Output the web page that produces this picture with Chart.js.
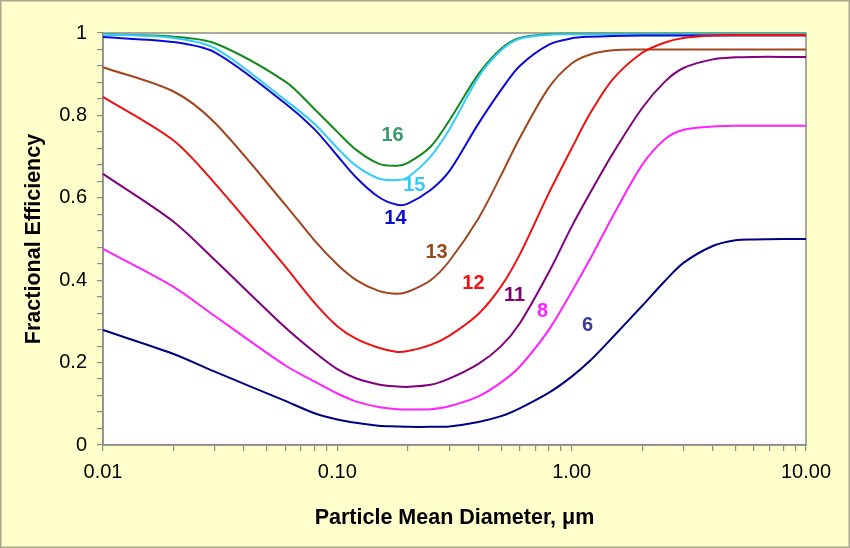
<!DOCTYPE html>
<html>
<head>
<meta charset="utf-8">
<script src="https://cdn.jsdelivr.net/npm/chart.js@4"></script>
<style>
html,body{margin:0;padding:0;background:#FFFFCC;}
canvas{display:block;}
</style>
</head>
<body>
<canvas id="c" width="850" height="548"></canvas>
<script>
const diameters = [0.01,0.02,0.03,0.06,0.08,0.1,0.12,0.15,0.18,0.2,0.25,0.3,0.4,0.5,0.6,0.8,1.0,1.2,1.5,2,2.5,3,4,5,6,8,10];

const eff16 = [0.997,0.991,0.975,0.882,0.815,0.760,0.717,0.683,0.678,0.685,0.724,0.787,0.900,0.962,0.988,0.997,0.998,0.998,0.998,0.998,0.998,0.998,0.998,0.998,0.998,0.998,0.998];
const eff15 = [0.997,0.988,0.963,0.837,0.779,0.721,0.678,0.647,0.643,0.650,0.700,0.765,0.893,0.958,0.986,0.996,0.997,0.997,0.997,0.997,0.997,0.997,0.997,0.997,0.997,0.997,0.997];
const eff14 = [0.990,0.978,0.953,0.829,0.766,0.702,0.650,0.602,0.583,0.586,0.619,0.664,0.780,0.862,0.920,0.972,0.987,0.991,0.993,0.994,0.994,0.994,0.994,0.994,0.994,0.994,0.994];
const eff13 = [0.917,0.858,0.782,0.583,0.496,0.438,0.401,0.374,0.367,0.372,0.400,0.446,0.550,0.655,0.745,0.868,0.926,0.948,0.958,0.960,0.960,0.960,0.960,0.960,0.960,0.960,0.960];
const eff12 = [0.845,0.739,0.635,0.433,0.345,0.288,0.258,0.236,0.226,0.228,0.243,0.265,0.318,0.385,0.462,0.612,0.720,0.805,0.888,0.952,0.977,0.988,0.994,0.995,0.995,0.995,0.995];
const eff11 = [0.658,0.542,0.449,0.285,0.225,0.184,0.162,0.147,0.142,0.141,0.146,0.161,0.197,0.240,0.295,0.420,0.530,0.612,0.708,0.818,0.882,0.915,0.936,0.941,0.942,0.942,0.942];
const eff8  = [0.476,0.384,0.313,0.193,0.154,0.125,0.106,0.092,0.087,0.086,0.087,0.094,0.118,0.152,0.190,0.280,0.372,0.452,0.556,0.680,0.742,0.765,0.773,0.775,0.775,0.775,0.775];
const eff6  = [0.279,0.221,0.178,0.107,0.077,0.062,0.054,0.047,0.045,0.044,0.044,0.045,0.056,0.070,0.089,0.127,0.166,0.205,0.262,0.338,0.398,0.442,0.483,0.497,0.499,0.500,0.500];

const seriesNames = ['16','15','14','13','12','11','8','6'];
const seriesColors = ['#14891E','#33CCFF','#0A0ADC','#A0461E','#F01010','#800080','#FF22FF','#000080'];
const labelColors  = ['#3C9A6C','#33CCEE','#0A0ADC','#9A4A1A','#F01010','#800070','#FF22FF','#3A3A96'];
const labelX = [0.172,0.213,0.177,0.265,0.381,0.571,0.751,1.17];
const labelY = [0.752,0.629,0.551,0.468,0.393,0.362,0.325,0.289];

const xTickValues = [0.01,0.02,0.03,0.04,0.05,0.06,0.07,0.08,0.09,0.1,0.2,0.3,0.4,0.5,0.6,0.7,0.8,0.9,1,2,3,4,5,6,7,8,9,10];
const xTickLabels = {'0.01':'0.01','0.1':'0.10','1':'1.00','10':'10.00'};
const yTickValues = [];
for (let i=0;i<=25;i++) yTickValues.push(Math.round(i*4)/100);
const yTickLabels = {'0':'0','0.2':'0.2','0.4':'0.4','0.6':'0.6','0.8':'0.8','1':'1'};

const allSeries = [eff16,eff15,eff14,eff13,eff12,eff11,eff8,eff6];
const FONT = '"Liberation Sans", Arial, sans-serif';

const datasets = allSeries.map((arr,i)=>({
  label: seriesNames[i],
  data: arr.map((v,j)=>({x:diameters[j], y:v})),
  borderColor: seriesColors[i],
  borderWidth: 2,
  pointRadius: 0,
  tension: 0.3,
  fill: false,
  clip: 4
})).reverse();

const bgPlugin = {
  id:'bg',
  beforeDraw(chart){
    const {ctx, chartArea:a} = chart;
    ctx.save();
    ctx.fillStyle = '#FFFFCC';
    ctx.fillRect(0,0,chart.width,chart.height);
    ctx.fillStyle = '#FFFFFF';
    ctx.fillRect(a.left,a.top,a.right-a.left,a.bottom-a.top);
    ctx.strokeStyle = '#A8A890';
    ctx.lineWidth = 1.5;
    ctx.strokeRect(0.75,0.75,chart.width-1.5,chart.height-1.5);
    ctx.restore();
  },
  beforeDatasetsDraw(chart){
    const {ctx, chartArea:a} = chart;
    ctx.save();
    ctx.strokeStyle = '#8C8C8C';
    ctx.lineWidth = 1.5;
    ctx.strokeRect(a.left,a.top,a.right-a.left,a.bottom-a.top);
    ctx.restore();
  },
  afterDatasetsDraw(chart){
    const {ctx, scales} = chart;
    ctx.save();
    ctx.font = 'bold 20px ' + FONT;
    ctx.textAlign = 'center';
    ctx.textBaseline = 'middle';
    seriesNames.forEach((n,i)=>{
      ctx.fillStyle = labelColors[i];
      ctx.fillText(n, scales.x.getPixelForValue(labelX[i]), scales.y.getPixelForValue(labelY[i]));
    });
    ctx.restore();
  }
};

new Chart(document.getElementById('c'), {
  type:'line',
  data:{datasets},
  options:{
    responsive:false,
    animation:false,
    devicePixelRatio:1,
    layout:{padding:{left:0,right:44,top:33,bottom:0}},
    plugins:{legend:{display:false},tooltip:{enabled:false}},
    scales:{
      x:{
        type:'logarithmic',
        min:0.01,max:10,
        afterBuildTicks(s){ s.ticks = xTickValues.map(v=>({value:v})); },
        afterFit(s){ s.height = 103; },
        ticks:{
          autoSkip:false, maxRotation:0, padding:9,
          color:'#000',
          font:{family:FONT, size:20},
          callback(v){ const k = String(+v.toPrecision(3)); return xTickLabels[k] || ''; }
        },
        grid:{drawOnChartArea:false, drawTicks:true, tickLength:6, color:'#8C8C8C', lineWidth:1.2},
        border:{display:true,color:'#8C8C8C',width:1.5},
        title:{display:true,text:'Particle Mean Diameter, \u03BCm',color:'#000',
          font:{family:FONT, size:21.5, weight:'bold'}, padding:{top:4,bottom:17}}
      },
      y:{
        min:0,max:1,
        afterBuildTicks(s){ s.ticks = yTickValues.map(v=>({value:v})); },
        afterFit(s){ s.width = 103; },
        ticks:{
          autoSkip:false, padding:10,
          color:'#000',
          font:{family:FONT, size:20},
          callback(v){ const k = String(+v.toFixed(2)); return yTickLabels[k] || ''; }
        },
        grid:{drawOnChartArea:false, drawTicks:true, tickLength:6, color:'#8C8C8C', lineWidth:1.2},
        border:{display:true,color:'#8C8C8C',width:1.5},
        title:{display:true,text:'Fractional Efficiency',color:'#000',
          font:{family:FONT, size:21.5, weight:'bold'}, padding:{top:21,bottom:0}}
      }
    }
  },
  plugins:[bgPlugin]
});
</script>
</body>
</html>
